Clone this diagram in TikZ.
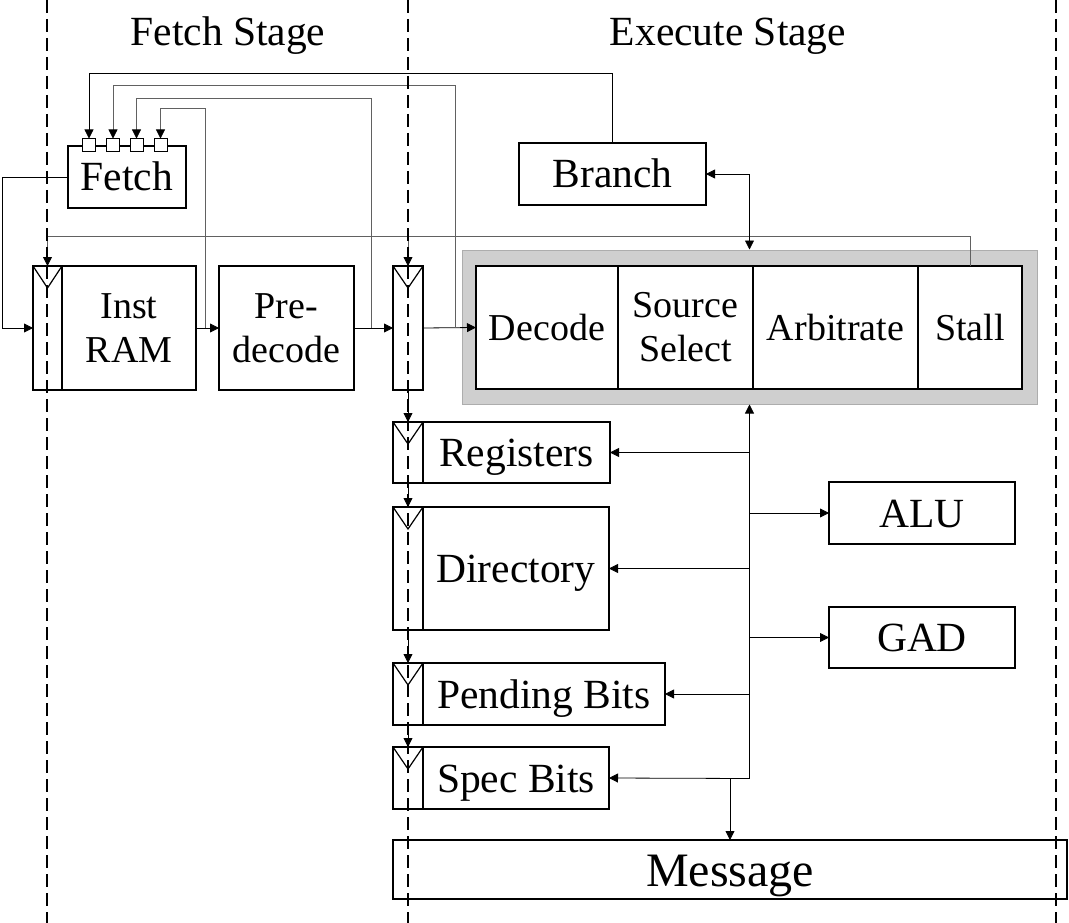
\documentclass[tikz,border=0pt]{standalone}
\usepackage{fontspec}
\setmainfont{Liberation Serif}
\usetikzlibrary{arrows.meta,calc,positioning}

\newcommand{\blocksize}{\fontsize{41.5}{44}\selectfont}
\newcommand{\innersize}{\fontsize{38}{44}\selectfont}
\newcommand{\msgsize}{\fontsize{48}{50}\selectfont}
\newcommand{\clkmark}[1]{\draw[line width=1.2pt] (#1.north west) -- ($(#1.north)+(0,22)$) -- (#1.north east);}

\begin{document}
\begin{tikzpicture}[x=1pt, y=-1pt, line join=miter,
    frame/.style={draw, line width=1.4pt, outer sep=0pt, inner sep=0pt, align=center, font=\blocksize},
    blk/.style={frame, text height=37pt, text depth=9pt},
    blktwo/.style={frame, fill=white, font=\innersize},
    stagecell/.style={frame, fill=white, font=\innersize, text height=34pt, text depth=8pt},
    latch/.style={draw, line width=1.4pt, outer sep=0pt, inner sep=0pt, minimum width=30pt},
    port/.style={draw, line width=1pt, fill=white, outer sep=0pt, minimum size=13pt, inner sep=0pt},
    wire/.style={line width=0.8pt, -{Triangle[length=9pt,width=9pt,color=black]}},
    biwire/.style={line width=0.8pt, {Triangle[length=9pt,width=9pt]}-{Triangle[length=9pt,width=9pt]}},
    fb/.style={wire, draw=black!62},
    stage/.style={line width=1.6pt, dash pattern=on 13pt off 6pt},
    title/.style={font=\blocksize, text height=37pt, text depth=9pt}]
    \useasboundingbox (0,0) rectangle (1069,923);

    % stage titles
    \node[title] (fstage) at (228,32) {Fetch Stage};
    \node[title] (xstage) at (728,32) {Execute Stage};

    % fetch stage
    \node[blk, minimum width=118pt, minimum height=62pt] (fetch) at (127,177) {Fetch};
    \foreach \i/\px in {1/89,2/113,3/136.5,4/160.5}
        \node[port] (fp\i) at (\px,145) {};
    \node[latch, minimum width=29pt, minimum height=124pt] (ireg) at (47.5,328) {};
    \node[blktwo, minimum width=134pt, minimum height=124pt, right=0pt of ireg] (iram) {Inst\\RAM};
    \node[blktwo, minimum width=135pt, minimum height=124pt] (pdec) at (286.5,328) {Pre-\\decode};
    \clkmark{ireg}

    % execute stage
    \node[latch, minimum height=124pt] (xreg) at (408,328) {};
    \clkmark{xreg}
    \node[draw=black!32, fill=black!19, line width=1pt, minimum width=575pt, minimum height=154pt] (gbox) at (749.5,327) {};
    \node[stagecell, minimum width=142pt, minimum height=123pt] (decode) at (547,327.5) {Decode};
    \node[blktwo, minimum width=135pt, minimum height=123pt, right=0pt of decode] (srcsel) {Source\\Select};
    \node[stagecell, minimum width=165pt, minimum height=123pt, right=0pt of srcsel] (arb) {Arbitrate};
    \node[stagecell, minimum width=104pt, minimum height=123pt, right=0pt of arb] (stall) {Stall};
    \node[blk, minimum width=187pt, minimum height=62pt] (branch) at (612.5,174) {Branch};

    \node[latch, minimum height=61pt] (rreg) at (408,452.5) {};
    \node[blk, minimum width=187pt, minimum height=61pt, right=0pt of rreg] (regs) {Registers};
    \node[latch, minimum height=123pt] (dreg) at (408,568.5) {};
    \node[blk, minimum width=186pt, minimum height=123pt, right=0pt of dreg] (dir) {Directory};
    \node[latch, minimum height=62pt] (preg) at (408,694) {};
    \node[blk, minimum width=242pt, minimum height=62pt, right=0pt of preg] (pend) {Pending Bits};
    \node[latch, minimum height=62pt] (sreg) at (408,778) {};
    \node[blk, minimum width=186pt, minimum height=62pt, right=0pt of sreg] (spec) {Spec Bits};
    \foreach \r in {rreg,dreg,preg,sreg} {\clkmark{\r}}

    \node[blk, minimum width=186pt, minimum height=62pt] (alu) at (922,513) {ALU};
    \node[blk, minimum width=186pt, minimum height=61pt] (gad) at (922,637.5) {GAD};
    \node[blk, font=\msgsize, text height=43pt, text depth=10pt, minimum width=674pt, minimum height=59pt] (msg) at (730,869.5) {Message};

    % data path
    \draw[wire] (fetch.west) -- ++(-66,0) |- (ireg.west);
    \draw[wire] (iram.east) -- (pdec.west);
    \draw[wire] (pdec.east) -- (xreg.west);
    \draw[wire] (xreg.east) -- (decode.west);

    % feedback to fetch
    \coordinate (tap2) at (455,328);
    \coordinate (tap3) at (371,328);
    \coordinate (tap4) at (205,328);
    \draw[wire] (branch.north) -- ++(0,-70) -| (fp1.north);
    \draw[fb] (tap2) -- ++(0,-243) -| (fp2.north);
    \draw[fb] (tap3) -- ++(0,-230) -| (fp3.north);
    \draw[fb] (tap4) -- ++(0,-220) -| (fp4.north);

    % clock
    \coordinate (ck) at ($(stall.north)+(0,-30)$);
    \draw[fb] (stall.north) -- (ck) -| (ireg.north);
    \draw[fb] (xreg.north |- ck) -- (xreg.north);
    \foreach \a/\b in {xreg/rreg,rreg/dreg,dreg/preg,preg/sreg}
        \draw[wire] (\a.south) -- (\b.north);

    % bus
    \draw[biwire] (branch.east) -| (gbox.north);
    \path (gbox.south) ++(0,374) coordinate (busend);
    \draw[wire] (busend) -- (gbox.south);
    \draw[wire] (busend) -- (spec.east);
    \foreach \b in {regs,dir,pend}
        \draw[wire] (gbox.south |- \b.east) -- (\b.east);
    \foreach \b in {alu,gad}
        \draw[wire] (gbox.south |- \b.west) -- (\b.west);
    \draw[wire] (msg.north |- busend) -- (msg.north);

    % stage boundaries
    \foreach \sx in {47,408,1056}
        \draw[stage] (\sx,0) -- (\sx,923);
\end{tikzpicture}
\end{document}
